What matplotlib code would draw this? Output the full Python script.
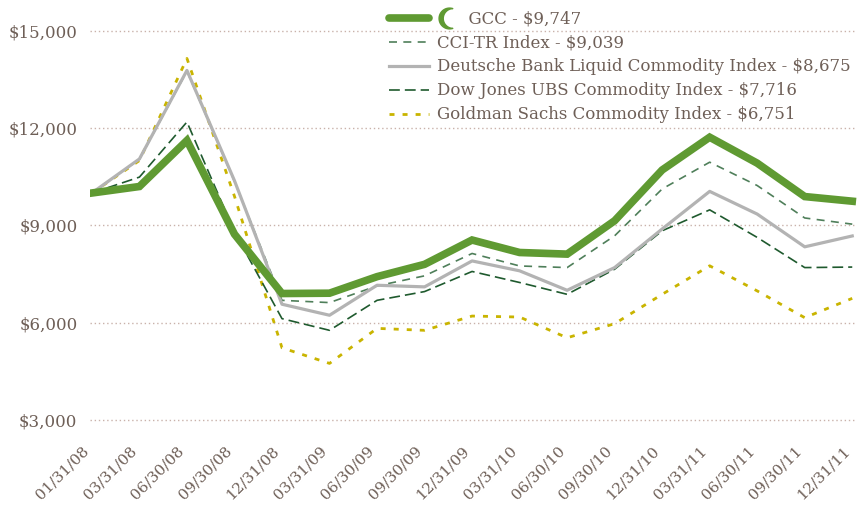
import numpy as np
import matplotlib
matplotlib.use("Agg")
import matplotlib.pyplot as plt
from matplotlib.lines import Line2D
from matplotlib.path import Path
from matplotlib.legend_handler import HandlerBase

dates = ["01/31/08", "03/31/08", "06/30/08", "09/30/08", "12/31/08", "03/31/09",
         "06/30/09", "09/30/09", "12/31/09", "03/31/10", "06/30/10", "09/30/10",
         "12/31/10", "03/31/11", "06/30/11", "09/30/11", "12/31/11"]

gcc = [10000, 10200, 11620, 8730, 6900, 6910, 7420, 7800, 8550, 8165, 8115, 9145,
       10710, 11720, 10920, 9890, 9747]
cci = [10000, 11040, 13760, 10360, 6690, 6620, 7135, 7445, 8135, 7750, 7700, 8680,
       10125, 10950, 10230, 9230, 9039]
dbl = [10000, 11050, 13780, 10380, 6570, 6230, 7155, 7105, 7905, 7600, 7000, 7700,
       8890, 10050, 9350, 8340, 8675]
dju = [10000, 10490, 12190, 8800, 6125, 5765, 6690, 6960, 7580, 7240, 6875, 7650,
       8835, 9480, 8630, 7700, 7716]
gsc = [10000, 11000, 14150, 9900, 5225, 4745, 5825, 5765, 6205, 6175, 5535, 5970,
       6875, 7755, 6980, 6155, 6751]

labels = ["GCC - $9,747", "CCI-TR Index - $9,039",
          "Deutsche Bank Liquid Commodity Index - $8,675",
          "Dow Jones UBS Commodity Index - $7,716",
          "Goldman Sachs Commodity Index - $6,751"]

yticks = [3000, 6000, 9000, 12000, 15000]

txt = "#6e5f57"
green = "#5f9a32"
plt.rcParams["font.family"] = ["DejaVu Serif"]

# crescent shape for the GCC legend icon
t1 = np.linspace(np.radians(72), np.radians(288), 40)
t2 = np.linspace(np.radians(267.8), np.radians(92.2), 40)
outer = np.column_stack([np.cos(t1), np.sin(t1)])
inner = np.column_stack([0.35 + 0.95 * np.cos(t2), 0.95 * np.sin(t2)])
verts = np.vstack([outer, inner, outer[:1]])
crescent = Path(verts, closed=True)


class GccHandler(HandlerBase):
    def create_artists(self, legend, orig_handle, xdescent, ydescent, width, height, fontsize, trans):
        y = height / 2 - ydescent
        x0 = -xdescent
        line = Line2D([x0, x0 + width], [y, y], color=green, lw=5.5, solid_capstyle="round")
        mark = Line2D([x0 + width + 1.2 * fontsize], [y], marker=crescent, markersize=fontsize * 1.25,
                      color=green, linestyle="none")
        line.set_transform(trans)
        mark.set_transform(trans)
        return [line, mark]


fig = plt.figure(figsize=(8.57, 5.05), dpi=100)
ax = fig.add_axes([90 / 857, 1 - 423 / 505, 1 - 90 / 857, 421 / 505])
x = np.arange(len(dates))

ax.plot(x, gsc, color="#c9b400", lw=2.0, linestyle=(0, (1.8, 2.9)), zorder=3)
ax.plot(x, dju, color="#1f5a2e", lw=1.2, linestyle=(0, (6.5, 3.0)), zorder=3)
ax.plot(x, cci, color="#4f7f5a", lw=1.2, linestyle=(0, (4.8, 3.8)), zorder=3)
ax.plot(x, dbl, color="#b3b3b3", lw=2.3, zorder=4)
ax.plot(x, gcc, color=green, lw=5.5, solid_joinstyle="miter", zorder=5)

ax.set_xlim(-0.04, 16.1)
ax.set_ylim(2907, 15890)
ax.set_yticks(yticks)
ax.set_yticklabels(["${:,}".format(v) for v in yticks])
ax.set_xticks(x)
ax.set_xticklabels(dates, rotation=45, ha="right")
ax.tick_params(length=0, colors=txt, labelsize=12)
ax.tick_params(axis="x", labelsize=11, pad=15)
ax.tick_params(axis="y", pad=9)
ax.grid(axis="y", color="#c9b2aa", linestyle=(0, (1, 2)), lw=1.0)
ax.set_axisbelow(True)
for s in ax.spines.values():
    s.set_visible(False)

h_gcc = Line2D([], [], color=green, lw=5.5)
h_cci = Line2D([], [], color="#4f7f5a", lw=1.2, linestyle=(0, (4.8, 3.8)))
h_dbl = Line2D([], [], color="#b3b3b3", lw=2.3)
h_dju = Line2D([], [], color="#1f5a2e", lw=1.2, linestyle=(0, (6.5, 3.0)))
h_gsc = Line2D([], [], color="#c9b400", lw=2.0, linestyle=(0, (1.8, 2.9)))
labels[0] = "      " + labels[0]
leg = ax.legend([h_gcc, h_cci, h_dbl, h_dju, h_gsc], labels,
                handler_map={h_gcc: GccHandler()},
                loc="upper left", bbox_to_anchor=(0.385, 0.988), frameon=False,
                fontsize=12, handlelength=2.4, handletextpad=0.5, labelspacing=0.42,
                borderpad=0.2, borderaxespad=0)
for t in leg.get_texts():
    t.set_color(txt)

fig.savefig("out.png", dpi=100)
